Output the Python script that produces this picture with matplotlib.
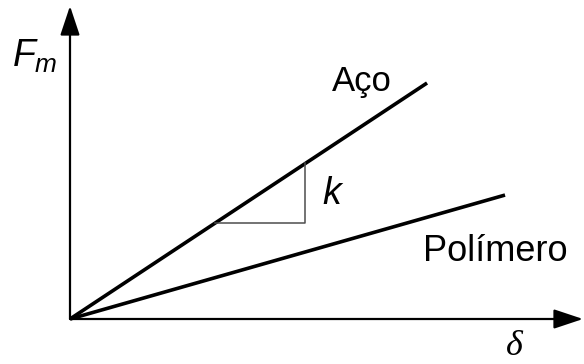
import matplotlib
matplotlib.use("Agg")
import matplotlib.pyplot as plt

# schematic data: deformation (delta) vs force, in fractions of the axis length
delta_aco = [0.0, 0.696]
force_aco = [0.0, 0.754]
delta_pol = [0.0, 0.848]
force_pol = [0.0, 0.396]
# slope triangle under the steel line
tri_delta = [0.283, 0.459]

labels = {"aco": "Aço", "pol": "Polímero", "k": "k"}

plt.rcParams['font.family'] = ['Liberation Sans', 'DejaVu Sans']
plt.rcParams['mathtext.fontset'] = 'custom'
plt.rcParams['mathtext.it'] = 'Liberation Sans:italic'
plt.rcParams['mathtext.rm'] = 'Liberation Sans'


def main():
    fig = plt.figure(figsize=(5.84, 3.64), dpi=100)
    ax = fig.add_axes([70 / 584, 45 / 364, 513 / 584, 313 / 364])
    ax.set_xlim(0, 1)
    ax.set_ylim(0, 1)
    ax.axis('off')

    # axes with arrowheads
    arrow = dict(arrowstyle='-|>,head_length=0.9,head_width=0.3', color='black',
                 lw=1.6, shrinkA=0, shrinkB=0, mutation_scale=20)
    ax.annotate('', xy=(1, 0), xytext=(0, 0), xycoords='axes fraction', arrowprops=arrow)
    ax.annotate('', xy=(0, 1), xytext=(0, 0), xycoords='axes fraction', arrowprops=arrow)

    ax.plot(delta_aco, force_aco, color='black', lw=2.6, solid_capstyle='butt', clip_on=False)
    ax.plot(delta_pol, force_pol, color='black', lw=2.6, solid_capstyle='butt', clip_on=False)

    # slope triangle
    slope = force_aco[1] / delta_aco[1]
    f0 = slope * tri_delta[0]
    f1 = slope * tri_delta[1]
    ax.plot([tri_delta[0], tri_delta[1], tri_delta[1]], [f0, f0, f1],
            color='0.3', lw=1.1)

    ax.text(0.511, 0.727, labels["aco"], fontsize=25, ha='left', va='baseline')
    ax.text(0.688, 0.185, labels["pol"], fontsize=26, ha='left', va='baseline')
    ax.text(0.491, 0.367, labels["k"], fontsize=27, style='italic', ha='left', va='baseline')
    ax.text(-0.113, 0.805, r'$F_m$', fontsize=27, ha='left', va='baseline')
    ax.text(0.850, -0.115, 'δ', fontsize=26, family=['Liberation Serif', 'DejaVu Serif'],
            style='italic', ha='left', va='baseline')

    fig.savefig('out.png', dpi=100)


if __name__ == "__main__":
    main()
